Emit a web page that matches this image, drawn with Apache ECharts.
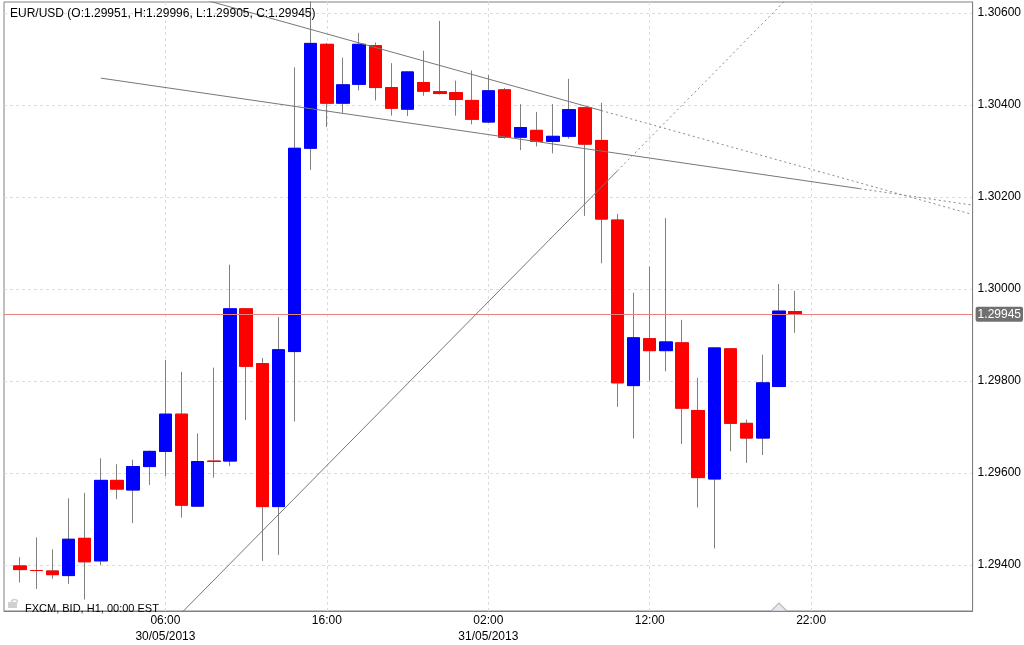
<!DOCTYPE html>
<html><head><meta charset="utf-8">
<script src="https://cdn.jsdelivr.net/npm/echarts@6/dist/echarts.min.js"></script>
<style>html,body{margin:0;padding:0;background:#fff}#c{width:1024px;height:645px}</style>
</head><body><div id="c"></div>
<script>
// Hourly categories (20:00 29/05/2013 ... 08:00 01/06/2013)
const hours = ['20:00','21:00','22:00','23:00','00:00','01:00','02:00','03:00','04:00','05:00',
  '06:00','07:00','08:00','09:00','10:00','11:00','12:00','13:00','14:00','15:00',
  '16:00','17:00','18:00','19:00','20:00','21:00','22:00','23:00','00:00','01:00',
  '02:00','03:00','04:00','05:00','06:00','07:00','08:00','09:00','10:00','11:00',
  '12:00','13:00','14:00','15:00','16:00','17:00','18:00','19:00','20:00','21:00',
  '22:00','23:00','00:00','01:00','02:00','03:00','04:00','05:00','06:00','07:00','08:00'];
const shownHourLabels = [10, 20, 30, 40, 50];
const dateLabelCats = [10, 30];
const dateLabelText = ['30/05/2013', '31/05/2013'];
const firstCandleCat = 1;

const opens = [1.29398,1.29388,1.29387,1.29377,1.29458,1.29409,1.29584,1.29563,1.29614,1.29647,
  1.29728,1.29528,1.29626,1.29626,1.29957,1.29838,1.29527,1.29864,1.30306,1.30532,
  1.30404,1.30445,1.30529,1.30438,1.30391,1.30449,1.30429,1.30427,1.30410,1.30363,
  1.30433,1.30330,1.30345,1.30321,1.30332,1.30394,1.30323,1.30150,1.29790,1.29892,
  1.29866,1.29883,1.29736,1.29587,1.29870,1.29708,1.29676,1.29788,1.29951];
const closes = [1.29390,1.29388,1.29379,1.29456,1.29407,1.29584,1.29565,1.29614,1.29647,1.29728,
  1.29530,1.29625,1.29625,1.29957,1.29832,1.29527,1.29868,1.30306,1.30534,1.30404,
  1.30444,1.30532,1.30438,1.30393,1.30472,1.30430,1.30425,1.30412,1.30369,1.30431,
  1.30330,1.30351,1.30321,1.30332,1.30390,1.30315,1.30152,1.29796,1.29894,1.29866,
  1.29885,1.29741,1.29590,1.29872,1.29708,1.29676,1.29796,1.29952,1.29945];
const lows = [1.29362,1.29348,1.29370,1.29359,1.29325,1.29400,1.29543,1.29491,1.29574,1.29593,
  1.29503,1.29527,1.29590,1.29615,1.29715,1.29409,1.29422,1.29712,1.30259,1.30352,
  1.30383,1.30432,1.30410,1.30377,1.30376,1.30420,1.30423,1.30377,1.30358,1.30361,
  1.30327,1.30302,1.30310,1.30295,1.30327,1.30159,1.30056,1.29744,1.29675,1.29801,
  1.29821,1.29663,1.29525,1.29436,1.29647,1.29622,1.29639,1.29787,1.29905];
const highs = [1.29417,1.29460,1.29434,1.29545,1.29557,1.29632,1.29619,1.29629,1.29649,1.29846,
  1.29820,1.29686,1.29829,1.30053,1.29959,1.29850,1.29939,1.30482,1.30625,1.30535,
  1.30503,1.30557,1.30536,1.30491,1.30473,1.30518,1.30583,1.30453,1.30475,1.30465,
  1.30437,1.30402,1.30385,1.30402,1.30457,1.30395,1.30405,1.30163,1.29992,1.30049,
  1.30154,1.29933,1.29807,1.29873,1.29871,1.29716,1.29857,1.30011,1.29996];

const yTicks = [1.294, 1.296, 1.298, 1.300, 1.302, 1.304, 1.306];
const yMin = 1.29300, yMax = 1.30624;

// Trend lines as [category index, price]
const upperSolid = [[12, 1.30633], [37, 1.30388]];
const upperDotted = [[37, 1.30388], [60, 1.30162]];
const lowerSolid = [[6, 1.304585], [53, 1.302182]];
const lowerDotted = [[53, 1.302182], [60, 1.301824]];
const risingSolid = [[11, 1.29296], [38, 1.30257]];
const risingDotted = [[38, 1.30257], [49, 1.30649]];
const markerCat = [48];

const titleText = 'EUR/USD (O:1.29951, H:1.29996, L:1.29905, C:1.29945)';
const footText = 'FXCM, BID, H1, 00:00 EST';

const FONT = '"Liberation Sans", Arial, sans-serif';
const UP = '#0000ff', DOWN = '#ff0000', WICK = '#808080';

const full = [], bodies = [];
for (let i = 0; i < hours.length; i++) {
  const k = i - firstCandleCat;
  if (k >= 0 && k < opens.length) {
    full.push([opens[k], closes[k], lows[k], highs[k]]);
    bodies.push([opens[k], closes[k], Math.min(opens[k], closes[k]), Math.max(opens[k], closes[k])]);
  } else { full.push('-'); bodies.push('-'); }
}
const lastClose = closes[closes.length - 1];
const showCat = (i) => shownHourLabels.indexOf(i) >= 0;

const trend = (data, dotted) => ({
  type: 'line', data, symbol: 'none', silent: true, z: 5,
  lineStyle: { color: dotted ? '#8a8a8a' : '#777', width: 1, type: dotted ? [2, 3] : 'solid' },
  animation: false
});

const chart = echarts.init(document.getElementById('c'), null, { renderer: 'canvas' });
chart.setOption({
  animation: false,
  backgroundColor: '#fff',
  title: [
    { text: titleText, left: 5, top: 3, textStyle: { fontSize: 12, fontWeight: 'normal', color: '#000', fontFamily: FONT } },
    { text: footText, left: 20, top: 598, textStyle: { fontSize: 11, fontWeight: 'normal', color: '#000', fontFamily: FONT } }
  ],
  graphic: [
    { type: 'rect', left: 8, top: 602, shape: { width: 9, height: 6 }, style: { fill: '#d0d0d0' }, z: 10 },
    { type: 'arc', left: 9, top: 597, shape: { cx: 0, cy: 0, r: 3, startAngle: Math.PI, endAngle: 2 * Math.PI }, style: { stroke: '#d0d0d0', fill: 'none', lineWidth: 1.5 }, z: 10 }
  ],
  grid: { left: 4, right: 51, top: 2, bottom: 32, show: true, borderColor: '#808080', borderWidth: 1 },
  xAxis: {
    type: 'category', data: hours, boundaryGap: false,
    axisLine: { show: true, lineStyle: { color: '#808080' } },
    axisTick: { show: false },
    axisLabel: {
      interval: (i) => showCat(i), margin: 2, color: '#000', fontSize: 12, fontFamily: FONT, lineHeight: 16,
      formatter: (v, i) => { const d = dateLabelCats.indexOf(i); return d >= 0 ? v + '\n' + dateLabelText[d] : v; }
    },
    splitLine: { show: true, interval: (i) => showCat(i), lineStyle: { color: '#dcdcdc', type: [3, 3] } }
  },
  yAxis: {
    type: 'value', position: 'right', min: yMin, max: yMax, scale: true,
    axisLine: { show: true, lineStyle: { color: '#808080' } },
    axisTick: { show: false, customValues: yTicks },
    axisLabel: { customValues: yTicks, color: '#000', fontSize: 12, fontFamily: FONT, margin: 5, formatter: (v) => v.toFixed(5) },
    splitLine: { show: true, lineStyle: { color: '#dcdcdc', type: [3, 3] } }
  },
  series: [
    {
      type: 'candlestick', name: 'wicks', data: full, barWidth: 13, z: 3, silent: true,
      itemStyle: { color: UP, color0: DOWN, borderColor: WICK, borderColor0: WICK, borderColorDoji: WICK, borderWidth: 1 }
    },
    {
      type: 'candlestick', name: 'bodies', data: bodies, barWidth: 13, z: 4, silent: true,
      itemStyle: { color: UP, color0: DOWN, borderColor: UP, borderColor0: DOWN, borderColorDoji: DOWN, borderWidth: 1 },
      markLine: {
        silent: true, symbol: 'none', animation: false, precision: 5,
        lineStyle: { color: '#e98080', width: 1, type: 'solid' },
        label: { show: true, position: 'end', distance: 3, formatter: (p) => Number(p.value).toFixed(5),
          backgroundColor: '#707070', color: '#fff', padding: [2, 2, 1, 2], borderRadius: 2, fontSize: 12, fontFamily: FONT },
        data: [{ yAxis: lastClose }]
      }
    },
    trend(upperSolid, false), trend(upperDotted, true),
    trend(lowerSolid, false), trend(lowerDotted, true),
    trend(risingSolid, false), trend(risingDotted, true),
    {
      type: 'scatter', data: markerCat.map(c => [c, yMin]), symbol: 'triangle', symbolSize: [16, 8], symbolOffset: [0, -4],
      itemStyle: { color: '#dfe3ec', borderColor: '#aaaaaa', borderWidth: 1 }, silent: true, z: 6, clip: false
    }
  ]
});
</script>
</body></html>
